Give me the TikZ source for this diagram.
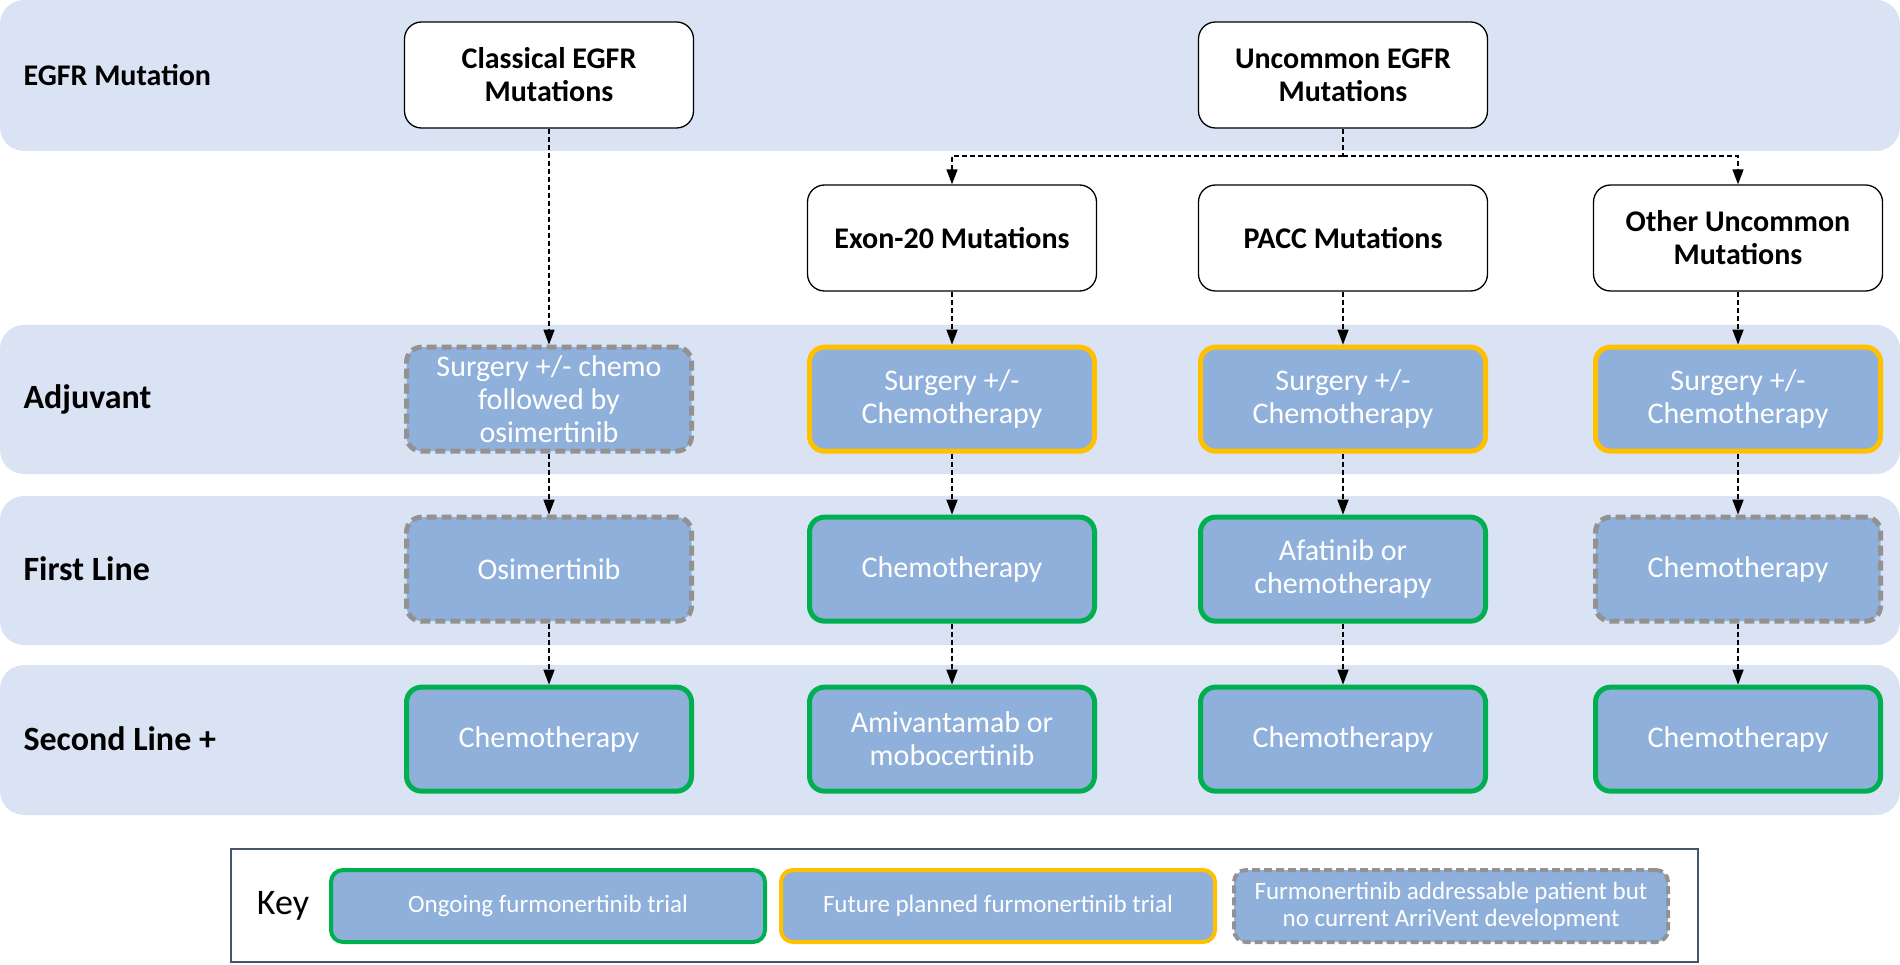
\documentclass[tikz,border=0pt]{standalone}
\usepackage{fontspec}
\setmainfont{Carlito}
\usetikzlibrary{positioning, arrows.meta}

\definecolor{bandblue}{HTML}{DAE3F3}
\definecolor{boxblue}{HTML}{8FB0DA}
\definecolor{ongoing}{HTML}{00B050}
\definecolor{planned}{HTML}{FFC000}
\definecolor{nodev}{HTML}{929292}
\definecolor{keyframe}{HTML}{44546A}

\tikzset{
    band/.style={fill=bandblue, rounded corners=24pt},
    mutation/.style={draw=black, line width=1.3pt, fill=white, rounded corners=17pt,
        minimum width=289pt, minimum height=106pt, align=center,
        font=\fontsize{30}{33}\selectfont\bfseries},
    therapy/.style={fill=boxblue, line width=5pt, rounded corners=15pt,
        minimum width=285pt, minimum height=104pt, align=center, text=white,
        font=\fontsize{30}{33}\selectfont},
    ongoingbox/.style={therapy, draw=ongoing},
    plannedbox/.style={therapy, draw=planned},
    nodevbox/.style={therapy, draw=nodev, dash pattern=on 10pt off 5pt},
    keyitem/.style={minimum width=434pt, minimum height=72pt, line width=4pt,
        rounded corners=12pt, dash pattern=on 8pt off 4pt,
        font=\fontsize{25}{27}\selectfont},
    rowlabel/.style={anchor=west, font=\fontsize{34}{38}\selectfont\bfseries},
    link/.style={line width=1.5pt, dash pattern=on 5pt off 3pt,
        -{Triangle[length=15pt, width=11pt]}},
    plainlink/.style={line width=1.5pt, dash pattern=on 5pt off 3pt}
}

\begin{document}
\begin{tikzpicture}[x=1pt, y=-1pt, node distance=61pt]
    \useasboundingbox (0,0) rectangle (1900,965);
    \fill[band] (0,0) rectangle (1900,151);
    \fill[band] (0,325) rectangle (1900,474);
    \fill[band] (0,496) rectangle (1900,645);
    \fill[band] (0,665) rectangle (1900,815);

    \node[rowlabel, font=\fontsize{30}{33}\selectfont\bfseries] (egfrlabel) at (20,75) {EGFR Mutation};

    \node[mutation] (classical) at (549,75) {Classical EGFR\\Mutations};
    \node[mutation] (uncommon) at (1343,75) {Uncommon EGFR\\Mutations};
    \node[mutation] (exon) at (952,238) {Exon-20 Mutations};
    \node[mutation] (pacc) at (1343,238) {PACC Mutations};
    \node[mutation] (other) at (1738,238) {Other Uncommon\\Mutations};

    \node[plannedbox, below=53pt of exon] (exonadj) {Surgery +/-\\Chemotherapy};
    \node[plannedbox, below=53pt of pacc] (paccadj) {Surgery +/-\\Chemotherapy};
    \node[plannedbox, below=53pt of other] (otheradj) {Surgery +/-\\Chemotherapy};
    \node[nodevbox] (clsadj) at (classical |- exonadj) {Surgery +/- chemo\\followed by\\osimertinib};
    \node[rowlabel] (adjlabel) at (egfrlabel.west |- exonadj) {Adjuvant};

    \node[nodevbox, below=of clsadj] (clsfirst) {Osimertinib};
    \node[ongoingbox, below=of exonadj] (exonfirst) {Chemotherapy};
    \node[ongoingbox, below=of paccadj] (paccfirst) {Afatinib or\\chemotherapy};
    \node[nodevbox, below=of otheradj] (otherfirst) {Chemotherapy};
    \node[rowlabel] (firstlabel) at (egfrlabel.west |- clsfirst) {First Line};

    \node[ongoingbox, below=of clsfirst] (clssecond) {Chemotherapy};
    \node[ongoingbox, below=of exonfirst] (exonsecond) {Amivantamab or\\mobocertinib};
    \node[ongoingbox, below=of paccfirst] (paccsecond) {Chemotherapy};
    \node[ongoingbox, below=of otherfirst] (othersecond) {Chemotherapy};
    \node[rowlabel] (secondlabel) at (egfrlabel.west |- clssecond) {Second Line +};

    \coordinate (fork) at (1343,156);
    \draw[plainlink] (uncommon) -- (fork);
    \draw[link] (fork) -| (exon);
    \draw[link] (fork) -| (other);
    \draw[link] (classical) -- (clsadj);
    \draw[link] (exon) -- (exonadj);
    \draw[link] (pacc) -- (paccadj);
    \draw[link] (other) -- (otheradj);
    \foreach \col in {cls, exon, pacc, other} {
        \draw[link] (\col adj) -- (\col first);
        \draw[link] (\col first) -- (\col second);
    }

    \draw[keyframe, line width=2pt] (231,849) rectangle (1698,962);
    \node[font=\fontsize{36}{40}\selectfont] (keylabel) at (283,906) {Key};
    \node[ongoingbox, keyitem, solid] (keyongoing) at (548,906) {Ongoing furmonertinib trial};
    \node[plannedbox, keyitem, solid] (keyplanned) at (998,906) {Future planned furmonertinib trial};
    \node[nodevbox, keyitem] (keynodev) at (1451,906) {Furmonertinib addressable patient but\\no current ArriVent development};
\end{tikzpicture}
\end{document}
